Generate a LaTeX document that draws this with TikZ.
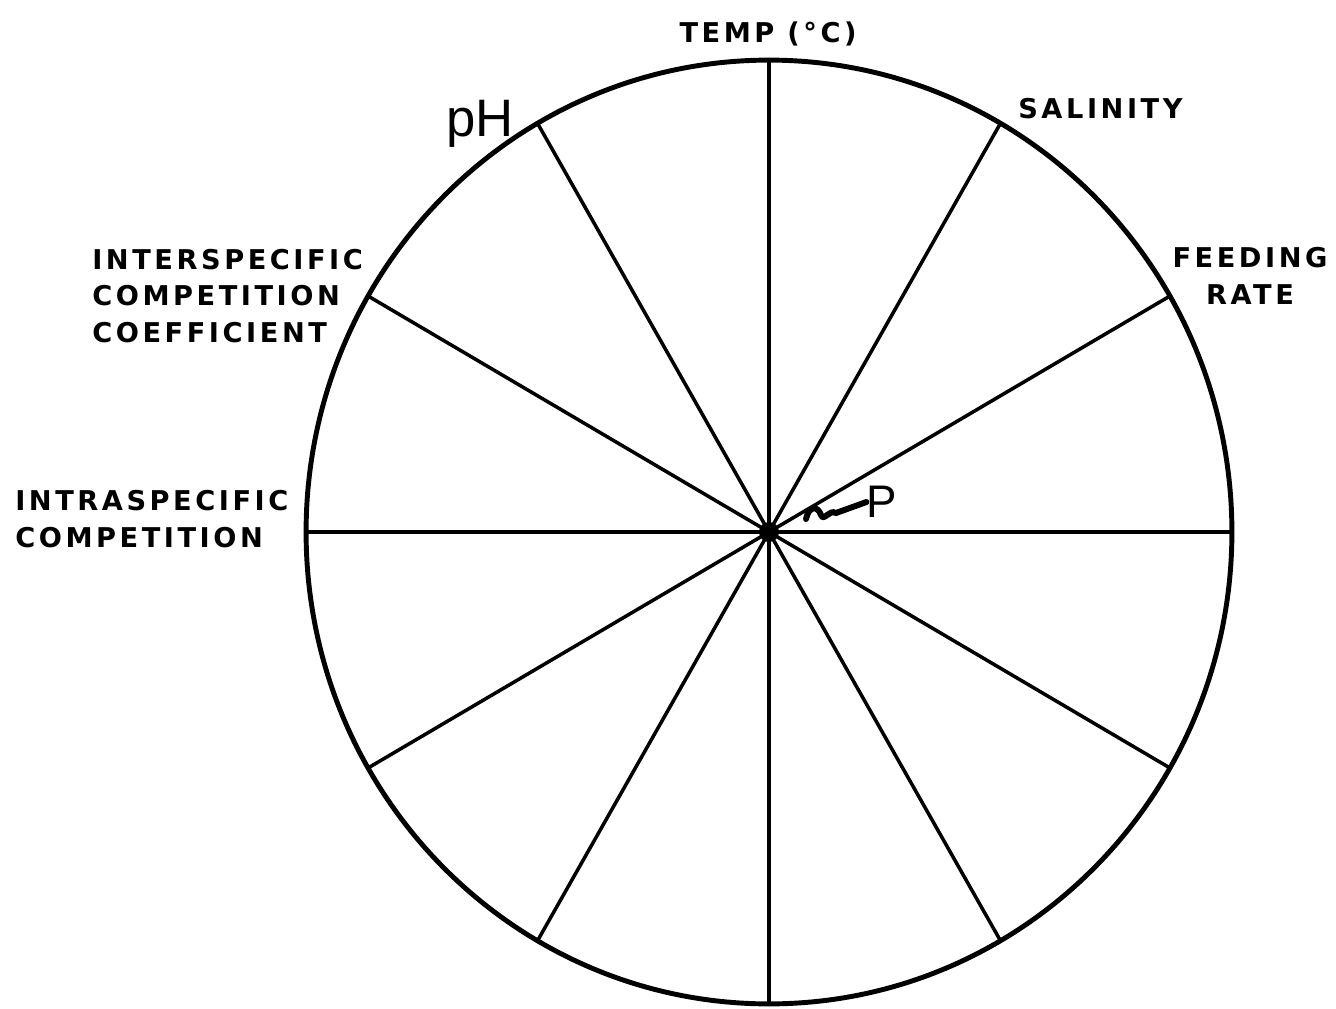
\documentclass[tikz,border=0pt]{standalone}
\usepackage{fontspec}
\setmainfont{Liberation Sans}
\newfontfamily\capsfont[LetterSpace=13]{DejaVu Sans Bold}
\usepackage{tikz}
\usetikzlibrary{calc}

\begin{document}
\begin{tikzpicture}[
    x=0.02cm, y=-0.02cm,
    rim/.style={line width=2.8pt},
    spoke/.style={line width=2pt},
    axislabel/.style={font=\fontsize{15.5}{21}\capsfont, inner sep=0pt},
    hand/.style={font=\fontsize{30}{34}\selectfont, inner sep=0pt}
]
\useasboundingbox (0,0) rectangle (1336,1008);

\coordinate (C) at (769,532);
% wheel
\draw[rim] (C) ellipse [x radius=9.26cm, y radius=9.44cm];
\foreach \a in {0,30,...,150} {
    \coordinate (s\a) at ($(C)+(\a:463 and 472)$);
    \coordinate (t\a) at ($(C)+(\a+180:463 and 472)$);
    \draw[spoke] (s\a) -- (t\a);
}
\fill (C) circle [radius=0.2cm];

% labels
\node[axislabel] (temp) at (768,34) {TEMP (°C)};
\node[hand] (ph) at (480,124) {pH};
\node[axislabel, anchor=west] (sal) at (1018,109) {SALINITY};
\node[axislabel, align=center] (feed) at (1250,276) {FEEDING\\RATE};
\node[axislabel, align=left, anchor=west] (inter) at (92,296)
    {INTERSPECIFIC\\COMPETITION\\COEFFICIENT};
\node[axislabel, align=left, anchor=west] (intra) at (15,519)
    {INTRASPECIFIC\\COMPETITION};

% point P
\node[font=\fontsize{26}{30}\selectfont, inner sep=0pt] (p) at (882,502) {P};
\draw[line width=3.4pt, line cap=round] (806,519) .. controls (809,505) and (818,506) .. (821,515)
    .. controls (824,522) and (829,509) .. (836,513) -- (p.west);
\end{tikzpicture}
\end{document}
